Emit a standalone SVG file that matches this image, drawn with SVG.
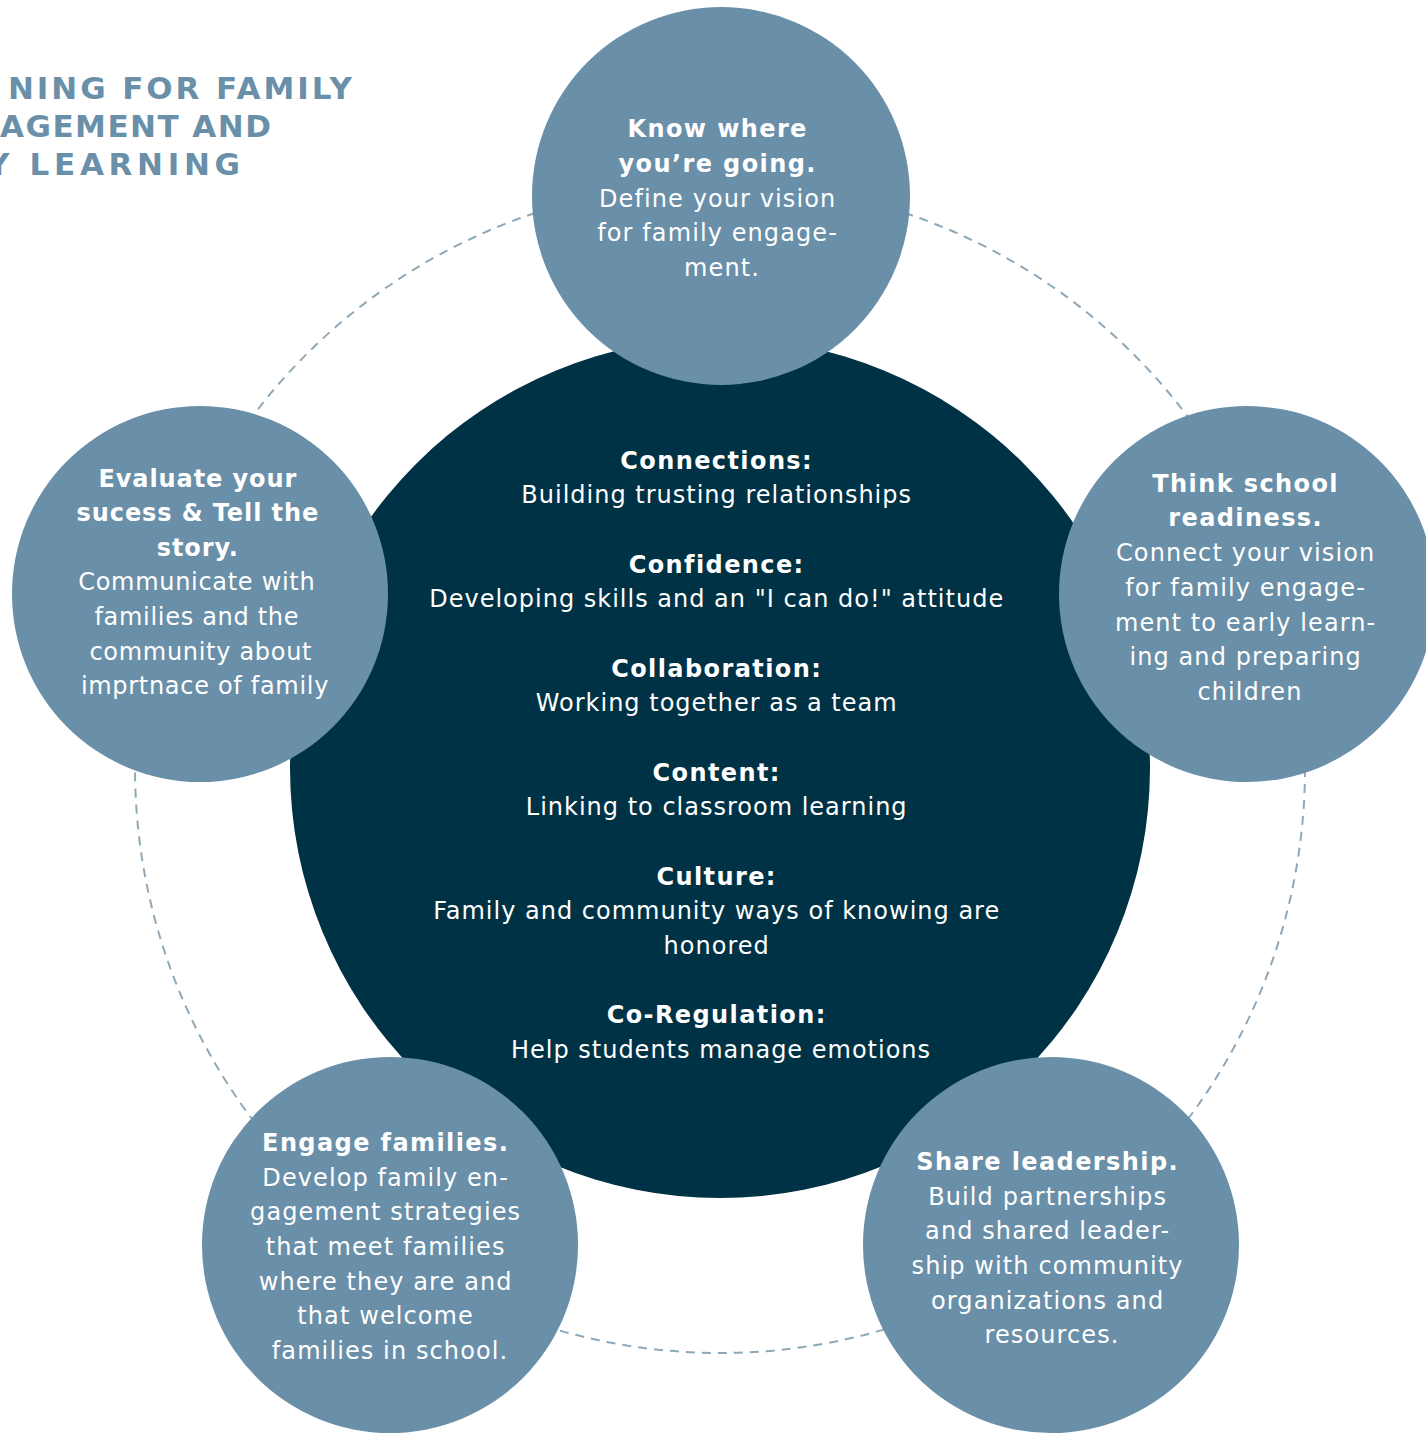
<svg xmlns="http://www.w3.org/2000/svg" width="1426" height="1435" viewBox="0 0 1426 1435">
<style>
.title{font-family:"DejaVu Sans",sans-serif;font-weight:bold;font-size:31px;fill:#6A8FA8}
.sc{fill:#6A8FA8}
.big{fill:#003245}
.t{font-family:"DejaVu Sans",sans-serif;fill:#ffffff;text-anchor:middle;font-size:24px;letter-spacing:1.1px}
.b{font-weight:bold;letter-spacing:1.4px}
.c{letter-spacing:1.0px}
.l{letter-spacing:0.7px}
.l .b{letter-spacing:0.9px}
.ring{fill:none;stroke:#8FA8B8;stroke-width:2;stroke-dasharray:9 7}
</style>
<rect width="1426" height="1435" fill="#ffffff"/>
<g id="title">
<text class="title" x="8" y="99" textLength="344" lengthAdjust="spacing">NING FOR FAMILY</text>
<text class="title" x="0" y="137" textLength="271" lengthAdjust="spacing">AGEMENT AND</text>
<text class="title" x="-13" y="175" textLength="253" lengthAdjust="spacing">Y LEARNING</text>
</g>
<g id="connectors">
<circle class="ring" cx="720" cy="768" r="585"/>
</g>
<g id="center">
<circle class="big" cx="720" cy="768" r="430"/>
<text class="t c">
<tspan class="b" x="721" y="469">Connections:</tspan>
<tspan x="721" y="503">Building trusting relationships</tspan>
<tspan class="b" x="721" y="573">Confidence:</tspan>
<tspan x="721" y="607">Developing skills and an "I can do!" attitude</tspan>
<tspan class="b" x="721" y="677">Collaboration:</tspan>
<tspan x="721" y="711">Working together as a team</tspan>
<tspan class="b" x="721" y="781">Content:</tspan>
<tspan x="721" y="815">Linking to classroom learning</tspan>
<tspan class="b" x="721" y="885">Culture:</tspan>
<tspan x="721" y="919">Family and community ways of knowing are</tspan>
<tspan x="721" y="954">honored</tspan>
<tspan class="b" x="721" y="1023">Co-Regulation:</tspan>
<tspan x="721" y="1058">Help students manage emotions</tspan>
</text>
</g>
<g id="node-top">
<circle class="sc" cx="721" cy="196" r="189"/>
<text class="t">
<tspan class="b" x="722" y="137">Know where</tspan>
<tspan class="b" x="722" y="172">you’re going.</tspan>
<tspan x="722" y="207">Define your vision</tspan>
<tspan x="722" y="241">for family engage-</tspan>
<tspan x="722" y="276">ment.</tspan>
</text>
</g>
<g id="node-left">
<circle class="sc" cx="200" cy="594" r="188"/>
<text class="t l">
<tspan class="b" x="202" y="487">Evaluate your</tspan>
<tspan class="b" x="202" y="521">sucess &amp; Tell the</tspan>
<tspan class="b" x="202" y="556">story.</tspan>
<tspan x="201" y="590">Communicate with</tspan>
<tspan x="201" y="625">families and the</tspan>
<tspan x="205" y="660">community about</tspan>
<tspan x="205" y="694">imprtnace of family</tspan>
</text>
</g>
<g id="node-right">
<circle class="sc" cx="1247" cy="594" r="188"/>
<text class="t">
<tspan class="b" x="1250" y="492">Think school</tspan>
<tspan class="b" x="1250" y="526">readiness.</tspan>
<tspan x="1250" y="561">Connect your vision</tspan>
<tspan x="1250" y="596">for family engage-</tspan>
<tspan x="1250" y="631">ment to early learn-</tspan>
<tspan x="1250" y="665">ing and preparing</tspan>
<tspan x="1250" y="700">children</tspan>
</text>
</g>
<g id="node-bottom-left">
<circle class="sc" cx="390" cy="1245" r="188"/>
<text class="t">
<tspan class="b" x="390" y="1151">Engage families.</tspan>
<tspan x="390" y="1186">Develop family en-</tspan>
<tspan x="390" y="1220">gagement strategies</tspan>
<tspan x="390" y="1255">that meet families</tspan>
<tspan x="390" y="1290">where they are and</tspan>
<tspan x="390" y="1324">that welcome</tspan>
<tspan x="390" y="1359">families in school.</tspan>
</text>
</g>
<g id="node-bottom-right">
<circle class="sc" cx="1051" cy="1245" r="188"/>
<text class="t">
<tspan class="b" x="1052" y="1170">Share leadership.</tspan>
<tspan x="1052" y="1205">Build partnerships</tspan>
<tspan x="1052" y="1239">and shared leader-</tspan>
<tspan x="1052" y="1274">ship with community</tspan>
<tspan x="1052" y="1309">organizations and</tspan>
<tspan x="1052" y="1343">resources.</tspan>
</text>
</g>
</svg>
